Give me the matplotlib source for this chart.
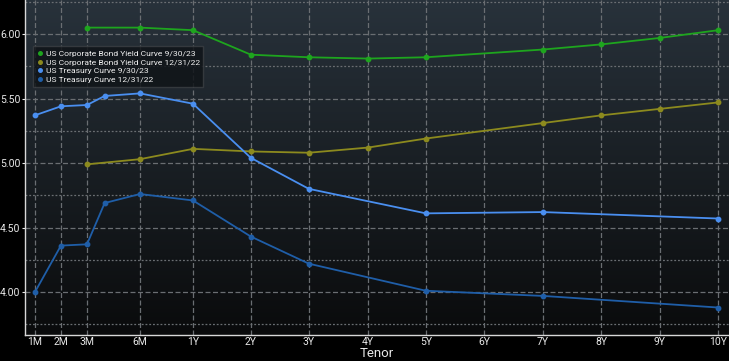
import matplotlib
matplotlib.use("Agg")
import matplotlib.pyplot as plt
import numpy as np

plt.rcParams['font.family'] = ['Roboto', 'DejaVu Sans']

# Tick labels and their axis positions (layout)
tenor_labels = ["1M", "2M", "3M", "6M", "1Y", "2Y", "3Y", "4Y", "5Y", "6Y", "7Y", "8Y", "9Y", "10Y"]
tenor_pos = {"1M": 0.0, "2M": 0.444, "3M": 0.889, "4M": 1.191, "6M": 1.795, "1Y": 2.70,
             "2Y": 3.69, "3Y": 4.68, "4Y": 5.69, "5Y": 6.68, "6Y": 7.68, "7Y": 8.68,
             "8Y": 9.68, "9Y": 10.68, "10Y": 11.675}

corp_tenors = ["3M", "6M", "1Y", "2Y", "3Y", "4Y", "5Y", "7Y", "8Y", "9Y", "10Y"]
corp_0923 = [6.05, 6.05, 6.03, 5.84, 5.82, 5.81, 5.82, 5.88, 5.92, 5.97, 6.03]
corp_1222 = [4.99, 5.03, 5.11, 5.09, 5.08, 5.12, 5.19, 5.31, 5.37, 5.42, 5.47]

tsy_tenors = ["1M", "2M", "3M", "4M", "6M", "1Y", "2Y", "3Y", "5Y", "7Y", "10Y"]
tsy_0923 = [5.37, 5.44, 5.45, 5.52, 5.54, 5.46, 5.04, 4.80, 4.61, 4.62, 4.57]
tsy_1222 = [4.00, 4.36, 4.37, 4.69, 4.76, 4.71, 4.43, 4.22, 4.01, 3.97, 3.88]

series = [
    ("US Corporate Bond Yield Curve 9/30/23", corp_tenors, corp_0923, "#1ea51e"),
    ("US Corporate Bond Yield Curve 12/31/22", corp_tenors, corp_1222, "#8c8a1e"),
    ("US Treasury Curve 9/30/23", tsy_tenors, tsy_0923, "#4a8ff0"),
    ("US Treasury Curve 12/31/22", tsy_tenors, tsy_1222, "#1f5ea8"),
]

fig = plt.figure(figsize=(7.29, 3.61), dpi=100, facecolor="black")
ax = fig.add_axes([25/729, 1 - 335/361, 1 - 25/729, 335/361])
ax.set_facecolor("black")

xmin, xmax = -0.17, 11.86
ymin, ymax = 3.667, 6.264
# background gradient
grad = np.linspace(0, 1, 256).reshape(-1, 1)
top = np.array([0x28, 0x32, 0x3b]) / 255
bot = np.array([0x0a, 0x0b, 0x0c]) / 255
img = bot + (top - bot) * grad[..., None] ** 1.0
ax.imshow(img, extent=[xmin, xmax, ymin, ymax], origin="lower", aspect="auto", zorder=0)

for name, tens, vals, col in series:
    xs = [tenor_pos[t] for t in tens]
    ax.plot(xs, vals, color=col, lw=1.3, marker="o", ms=3.2, label=name, zorder=3)

ax.set_xlim(xmin, xmax)
ax.set_ylim(ymin, ymax)

ax.set_xticks([tenor_pos[t] for t in tenor_labels])
ax.set_xticklabels(tenor_labels)
ax.set_yticks([4.0, 4.5, 5.0, 5.5, 6.0])
ax.set_yticklabels(["4.00", "4.50", "5.00", "5.50", "6.00"])
ax.set_yticks([3.75, 4.25, 4.75, 5.25, 5.75, 6.25], minor=True)

ax.grid(True, which="major", axis="both", color="#6a6e72", ls=(0, (4, 2)), lw=0.9, zorder=1)
ax.grid(True, which="minor", axis="y", color="#6a6e72", ls=(0, (1.5, 1.5)), lw=0.9, zorder=1)

for s in ["top", "right"]:
    ax.spines[s].set_visible(False)
for s in ["left", "bottom"]:
    ax.spines[s].set_color("#d8d8d8")
    ax.spines[s].set_linewidth(1.0)

ax.tick_params(axis="both", which="major", colors="#e8e8e8", labelsize=7.5, length=2.5, width=0.8, pad=0.8)
ax.tick_params(axis="x", which="major", length=0, pad=1.2)
ax.tick_params(axis="y", which="minor", length=0)
ax.set_xlabel("Tenor", color="#e8e8e8", fontsize=9.5, labelpad=0.5)

leg = ax.legend(loc="upper left", bbox_to_anchor=(4/704, 1 - 42/335), fontsize=6.1,
                frameon=True, handlelength=0.6, handletextpad=0.4, borderpad=0.45,
                labelspacing=0.2, markerscale=0.8, fancybox=False)
leg.get_frame().set_facecolor("#101418")
leg.get_frame().set_alpha(0.85)
leg.get_frame().set_edgecolor("#3a3e42")
for line in leg.get_lines():
    line.set_linestyle("none")
for t in leg.get_texts():
    t.set_color("#f0f0f0")

fig.savefig("out.png", dpi=100, facecolor="black")
